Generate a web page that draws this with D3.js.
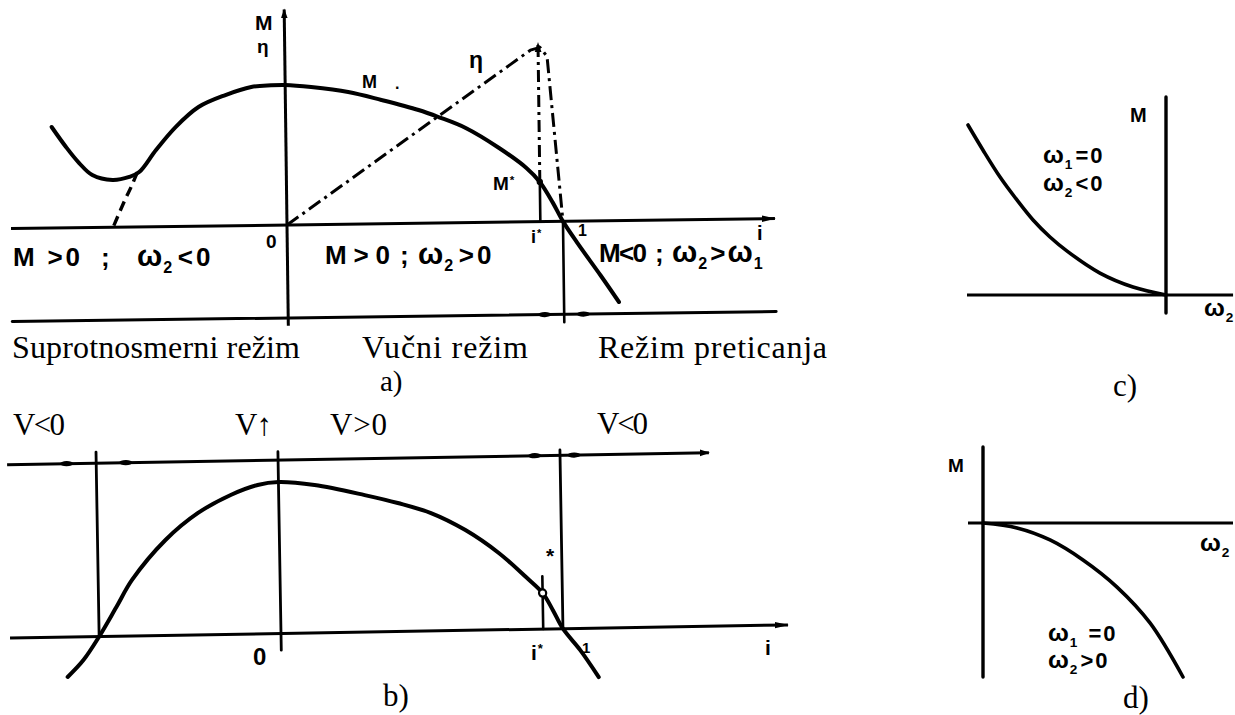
<!DOCTYPE html>
<html>
<head>
<meta charset="utf-8">
<script src="https://cdn.jsdelivr.net/npm/d3@7"></script>
<style>
  html, body { margin: 0; padding: 0; background: #fff; }
  svg { display: block; }
  .sans  { font-family: "Liberation Sans", Arial, sans-serif; font-weight: bold; white-space: pre; }
  .serif { font-family: "Liberation Serif", "Times New Roman", serif; white-space: pre; }
</style>
</head>
<body>
<svg id="fig" width="1235" height="715"></svg>
<script>
// ---------- a) torque M and efficiency η against speed ratio i ----------
const curveA_i = [-0.848, -0.797, -0.750, -0.703, -0.630, -0.569, -0.533, -0.471, -0.399, -0.315,
                  -0.217, -0.123, -0.051, 0, 0.094, 0.228, 0.348, 0.482, 0.554, 0.652,
                  0.772, 0.870, 0.918, 0.964, 1.0, 1.051, 1.134, 1.199];
const curveA_M = [0.722, 0.578, 0.462, 0.375, 0.338, 0.358, 0.392, 0.548, 0.710, 0.851,
                  0.934, 0.989, 0.999, 1.0, 0.983, 0.944, 0.884, 0.809, 0.757, 0.676,
                  0.530, 0.385, 0.284, 0.135, 0, -0.155, -0.390, -0.581];
// dashed continuation of the torque curve towards M = 0
const branchA_i = [-0.540, -0.562, -0.587, -0.630];
const branchA_M = [0.390, 0.290, 0.190, 0];
// efficiency η (dash-dot)
const etaA_i = [0, 0.890, 0.925, 0.950, 1.0];
const etaA   = [0, 1.226, 1.245, 1.180, 0];
const iStarA = 0.918, mStarA = 0.284, etaMaxA = 1.276;
const axisA_i = [-1.0, 1.768];      // extent of the i axis
const axisA_M = [-0.72, 1.54];      // extent of the M/η axis
const stripA_M = -0.664;            // regime strip line
const stripA_ticks = [0.93, 1.07];  // small marks on the strip line

// ---------- b) ----------
const curveB_i = [-0.759, -0.702, -0.645, -0.582, -0.525, -0.404, -0.287, -0.170, -0.074, 0,
                  0.128, 0.305, 0.422, 0.539, 0.660, 0.777, 0.872, 0.930, 0.965, 1.0, 1.060, 1.124];
const curveB_M = [-0.263, -0.153, 0, 0.193, 0.370, 0.630, 0.805, 0.920, 0.983, 1.0,
                  0.976, 0.904, 0.848, 0.778, 0.662, 0.507, 0.345, 0.238, 0.125, 0, -0.143, -0.323];
const iStarB = 0.930, mStarB = 0.238;
const boundsB_i   = [-0.645, 0, 1];     // vertical boundaries between the regimes
const boundsB_top = [1.218, 1.20, 1.18];
const boundsB_bot = [0, -0.11, 0];
const axisB_i = [-0.961, 1.798];
const topB_i = [-0.961, 1.528];
const topB_M = 1.145;
const topB_ticks = [-0.75, -0.54, 0.91, 1.05];

// ---------- c) ω1 = 0, ω2 < 0 ----------
const curveC_w = [-0.995, -0.920, -0.834, -0.749, -0.668, -0.583, -0.497, -0.332, -0.166, 0];
const curveC_M = [1.0, 0.853, 0.694, 0.559, 0.441, 0.341, 0.258, 0.129, 0.047, 0];
const axisC_w = [-1.0, 0.337];
const axisC_M = [-0.106, 1.165];

// ---------- d) ω1 = 0, ω2 > 0 ----------
const curveD_w = [0, 0.17, 0.335, 0.50, 0.67, 0.835, 1.0];
const curveD_M = [0, -0.032, -0.110, -0.240, -0.416, -0.649, -1.0];
const axisD_w = [-0.075, 1.25];
const axisD_M = [-1.0, 0.494];

// ------------------------------------------------------------------
const ink = "#000";
const svg = d3.select("#fig");
svg.append("rect").attr("width", 1235).attr("height", 715).attr("fill", "#fff");

const defs = svg.append("defs");
defs.append("marker").attr("id", "arr")
  .attr("viewBox", "0 0 14 8").attr("refX", 13).attr("refY", 4)
  .attr("markerWidth", 14).attr("markerHeight", 8)
  .attr("markerUnits", "userSpaceOnUse").attr("orient", "auto")
  .append("path").attr("d", "M0,0.8 L14,4 L0,7.2 Z").attr("fill", ink);
defs.append("marker").attr("id", "arrS")
  .attr("viewBox", "0 0 10 8").attr("refX", 9).attr("refY", 4)
  .attr("markerWidth", 10).attr("markerHeight", 8)
  .attr("markerUnits", "userSpaceOnUse").attr("orient", "auto")
  .append("path").attr("d", "M0,0.6 L10,4 L0,7.4 Z").attr("fill", ink);

// Text with _x subscripts and ^x superscripts.
// opt.ls: letter spacing, opt.len: forced length, opt.big: scale of ω, opt.after: gap after a subscript
function rich(parent, s, x, y, size, cls, opt = {}) {
  const ls = opt.ls || 0;
  const t = parent.append("text").attr("x", x).attr("y", y)
    .attr("class", cls).attr("font-size", size).attr("fill", ink);
  if (ls) t.attr("letter-spacing", ls);
  let shift = 0, buf = "", afterSub = false;
  const flush = () => {
    if (!buf) return;
    const sp = t.append("tspan").text(buf).attr("dy", -shift);
    if (afterSub) sp.attr("dx", opt.after != null ? opt.after : 2);
    shift = 0; buf = ""; afterSub = false;
  };
  for (let k = 0; k < s.length; k++) {
    const c = s[k];
    if (c === "_" || c === "^") {
      flush();
      const target = c === "_" ? size * 0.26 : -size * 0.32;
      t.append("tspan").text(s[++k]).attr("dy", target - shift)
        .attr("dx", -ls + 1).attr("font-size", size * 0.62);
      shift = target; afterSub = true;
    } else if (c === "ω" && opt.big) {
      flush();
      t.append("tspan").text(c).attr("dy", -shift).attr("font-size", size * opt.big);
      shift = 0;
    } else buf += c;
  }
  flush();
  if (opt.len) t.attr("textLength", opt.len).attr("lengthAdjust", "spacing");
  return t;
}

function seg(g, x1, y1, x2, y2, w, extra) {
  const l = g.append("line").attr("x1", x1).attr("y1", y1).attr("x2", x2).attr("y2", y2)
    .attr("stroke", ink).attr("stroke-width", w).attr("stroke-linecap", "round");
  if (extra) extra(l);
  return l;
}

function lens(g, cx, cy) {
  g.append("ellipse").attr("cx", cx).attr("cy", cy).attr("rx", 6.5).attr("ry", 2.6).attr("fill", ink);
}

// ======================= panel a =======================
const gA = svg.append("g").attr("transform", "rotate(-0.75,287,225)");
const xA = d3.scaleLinear().domain([0, 1]).range([287, 563]);
const yA = d3.scaleLinear().domain([0, 1]).range([225, 85]);
const lineA = d3.line().x(d => xA(d[0])).y(d => yA(d[1])).curve(d3.curveCatmullRom.alpha(0.5));
const polyA = d3.line().x(d => xA(d[0])).y(d => yA(d[1]));

// axes and strip
seg(gA, xA(axisA_i[0]), yA(0), xA(axisA_i[1]), yA(0), 3, l => l.attr("stroke-linecap", "butt").attr("marker-end", "url(#arr)"));
seg(gA, xA(axisA_i[0]), yA(stripA_M), xA(axisA_i[1]), yA(stripA_M), 3);
seg(gA, xA(0), yA(axisA_M[0]), xA(0), yA(axisA_M[1]), 3, l => l.attr("stroke-linecap", "butt").attr("marker-end", "url(#arrS)"));
seg(gA, xA(1), yA(0), xA(1), yA(axisA_M[0]), 2.6);
stripA_ticks.forEach(v => lens(gA, xA(v), yA(stripA_M)));

// torque curve
gA.append("path").datum(d3.zip(curveA_i, curveA_M)).attr("d", lineA)
  .attr("fill", "none").attr("stroke", ink).attr("stroke-width", 4).attr("stroke-linecap", "round");
gA.append("path").datum(d3.zip(branchA_i, branchA_M)).attr("d", lineA)
  .attr("fill", "none").attr("stroke", ink).attr("stroke-width", 3.4).attr("stroke-dasharray", "10 6");

// efficiency curve and i* projection
gA.append("path").datum(d3.zip(etaA_i, etaA)).attr("d", polyA)
  .attr("fill", "none").attr("stroke", ink).attr("stroke-width", 3)
  .attr("stroke-dasharray", "14 5 3 5").attr("stroke-linejoin", "round");
seg(gA, xA(iStarA), yA(mStarA), xA(iStarA), yA(etaMaxA), 3,
    l => l.attr("stroke-dasharray", "12 5 3 5").attr("stroke-linecap", "butt").attr("marker-end", "url(#arrS)"));
seg(gA, xA(iStarA), yA(mStarA), xA(iStarA), yA(0), 2.6);
gA.append("circle").attr("cx", xA(iStarA)).attr("cy", yA(mStarA)).attr("r", 3.2).attr("fill", ink);

// labels a
rich(svg, "M", 255, 30, 21, "sans", { len: 18 });
rich(svg, "η", 257, 53, 19, "sans");
rich(svg, "M", 362, 88, 18, "sans", { len: 20 });
rich(svg, ".", 395, 89, 16, "sans");
rich(svg, "η", 469, 68, 23, "sans");
rich(svg, "M^*", 493, 190, 19, "sans");
rich(svg, "0", 266, 248, 19, "sans");
rich(svg, "i^*", 531, 243, 18, "sans");
rich(svg, "1", 578, 236, 16, "sans");
rich(svg, "i", 757, 240, 20, "sans");

rich(svg, "M >0", 13, 266, 26, "sans", { len: 67 });
rich(svg, ";", 101, 266, 26, "sans");
rich(svg, "ω_2<0", 137, 266, 26, "sans", { ls: 3, big: 1.15, after: 2.5 });
rich(svg, "M>0", 325, 264, 26, "sans", { len: 65 });
rich(svg, ";", 400, 264, 26, "sans");
rich(svg, "ω_2>0", 418, 264, 26, "sans", { ls: 3, big: 1.15, after: 2.5 });
rich(svg, "M<0", 599, 262, 26, "sans", { len: 48 });
rich(svg, ";", 655, 262, 26, "sans");
rich(svg, "ω_2>ω_1", 672, 262, 26, "sans", { ls: 2, big: 1.15, after: 1 });

rich(svg, "Suprotnosmerni režim", 12, 358, 32, "serif", { len: 288 });
rich(svg, "Vučni režim", 362, 358, 32, "serif", { len: 166 });
rich(svg, "Režim preticanja", 598, 358, 32, "serif", { len: 229 });
rich(svg, "a)", 380, 391, 29, "serif");

// ======================= panel b =======================
const gB = svg.append("g").attr("transform", "rotate(-0.97,281,633.5)");
const xB = d3.scaleLinear().domain([0, 1]).range([281, 563]);
const yB = d3.scaleLinear().domain([0, 1]).range([633.5, 482]);
const lineB = d3.line().x(d => xB(d[0])).y(d => yB(d[1])).curve(d3.curveCatmullRom.alpha(0.5));

seg(gB, xB(axisB_i[0]), yB(0), xB(axisB_i[1]), yB(0), 3, l => l.attr("stroke-linecap", "butt").attr("marker-end", "url(#arr)"));
seg(gB, xB(topB_i[0]), yB(topB_M), xB(topB_i[1]), yB(topB_M), 3, l => l.attr("stroke-linecap", "butt").attr("marker-end", "url(#arrS)"));
boundsB_i.forEach((v, k) => seg(gB, xB(v), yB(boundsB_bot[k]), xB(v), yB(boundsB_top[k]), 2.8));
topB_ticks.forEach(v => lens(gB, xB(v), yB(topB_M)));

gB.append("path").datum(d3.zip(curveB_i, curveB_M)).attr("d", lineB)
  .attr("fill", "none").attr("stroke", ink).attr("stroke-width", 4).attr("stroke-linecap", "round");
seg(gB, xB(iStarB), yB(0), xB(iStarB), yB(mStarB + 0.11), 2.6);
gB.append("circle").attr("cx", xB(iStarB)).attr("cy", yB(mStarB)).attr("r", 3.6)
  .attr("fill", "#fff").attr("stroke", ink).attr("stroke-width", 2.2);

rich(svg, "V<0", 13, 435, 31, "serif", { len: 52 });
rich(svg, "V↑", 235, 435, 31, "serif", { len: 37 });
rich(svg, "V>0", 330, 435, 31, "serif", { len: 57 });
rich(svg, "V<0", 597, 434, 31, "serif", { len: 51 });
rich(svg, "0", 253, 665, 24, "sans");
rich(svg, "i^*", 531, 660, 21, "sans");
rich(svg, "1", 582, 653, 15, "sans");
rich(svg, "i", 765, 655, 21, "sans");
rich(svg, "*", 546, 563, 21, "sans");
rich(svg, "b)", 383, 706, 31, "serif");

// ======================= panel c =======================
const gC = svg.append("g");
const xC = d3.scaleLinear().domain([-1, 0]).range([967, 1166]);
const yC = d3.scaleLinear().domain([0, 1]).range([295, 125]);
const lineC = d3.line().x(d => xC(d[0])).y(d => yC(d[1])).curve(d3.curveCatmullRom.alpha(0.5));
seg(gC, xC(axisC_w[0]), yC(0), xC(axisC_w[1]), yC(0), 3, l => l.attr("stroke-linecap", "butt"));
seg(gC, xC(0), yC(axisC_M[0]), xC(0), yC(axisC_M[1]), 3.4);
gC.append("path").datum(d3.zip(curveC_w, curveC_M)).attr("d", lineC)
  .attr("fill", "none").attr("stroke", ink).attr("stroke-width", 3.6).attr("stroke-linecap", "round");
rich(svg, "M", 1130, 122, 20, "sans", { len: 22 });
rich(svg, "ω_1=0", 1043, 163, 22, "sans", { ls: 2, big: 1.12, after: 1 });
rich(svg, "ω_2<0", 1043, 191, 22, "sans", { ls: 2, big: 1.12, after: 1 });
rich(svg, "ω_2", 1204, 316, 22, "sans", { big: 1.12 });
rich(svg, "c)", 1113, 396, 31, "serif");

// ======================= panel d =======================
const gD = svg.append("g");
const xD = d3.scaleLinear().domain([0, 1]).range([983, 1183]);
const yD = d3.scaleLinear().domain([0, -1]).range([523, 677]);
const lineD = d3.line().x(d => xD(d[0])).y(d => yD(d[1])).curve(d3.curveCatmullRom.alpha(0.5));
seg(gD, xD(axisD_w[0]), yD(0), xD(axisD_w[1]), yD(0), 3, l => l.attr("stroke-linecap", "butt"));
seg(gD, xD(0), yD(axisD_M[0]), xD(0), yD(axisD_M[1]), 3.4);
gD.append("path").datum(d3.zip(curveD_w, curveD_M)).attr("d", lineD)
  .attr("fill", "none").attr("stroke", ink).attr("stroke-width", 3.6).attr("stroke-linecap", "round");
rich(svg, "M", 948, 472, 19, "sans", { len: 22 });
rich(svg, "ω_2", 1200, 551, 22, "sans", { big: 1.12 });
rich(svg, "ω_1 =0", 1048, 641, 22, "sans", { ls: 2, big: 1.12, after: 1 });
rich(svg, "ω_2>0", 1048, 668, 22, "sans", { ls: 2, big: 1.12, after: 1 });
rich(svg, "d)", 1123, 708, 31, "serif");
</script>
</body>
</html>
